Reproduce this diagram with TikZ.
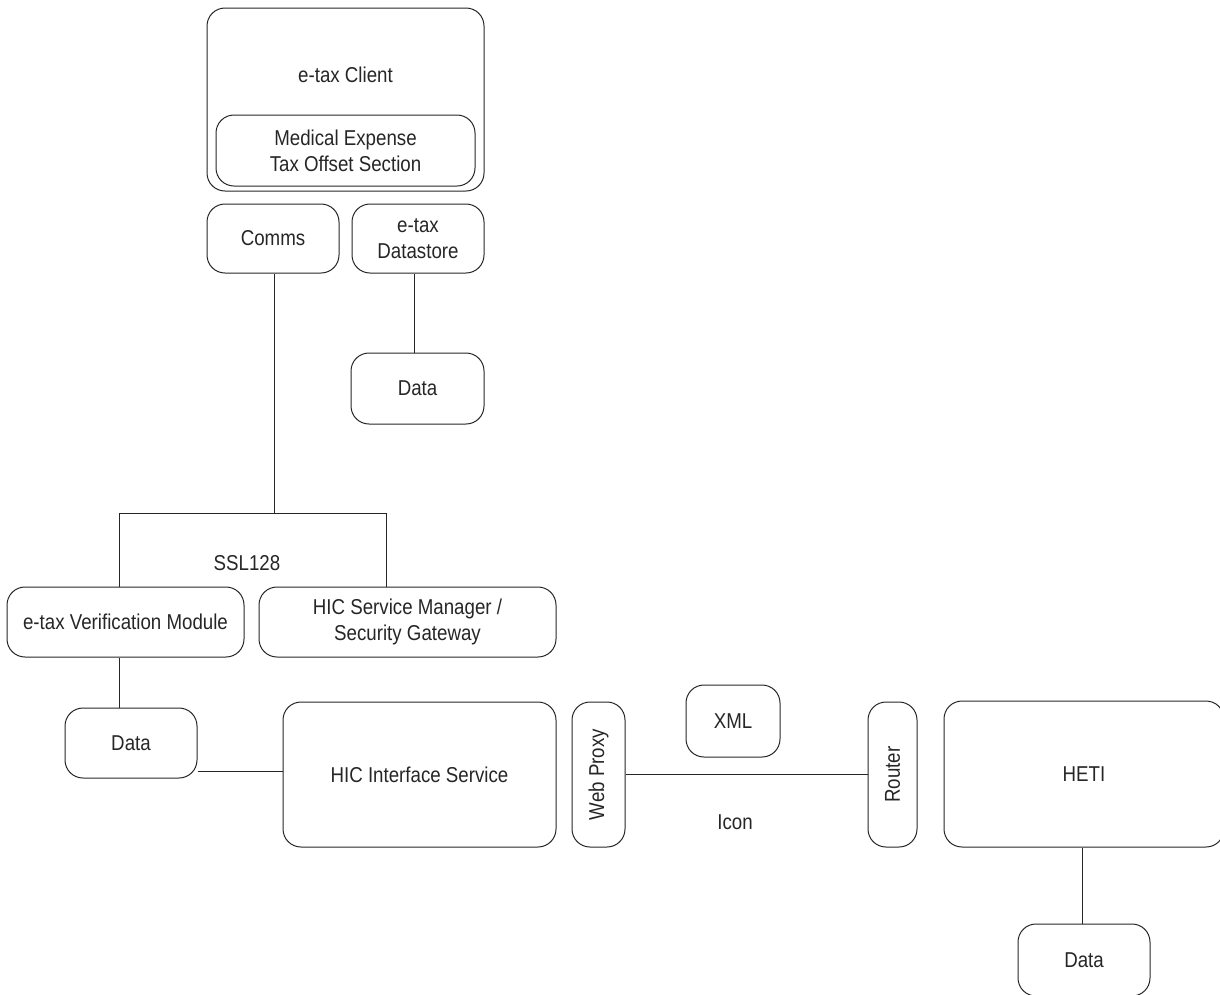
\documentclass[tikz,border=0pt]{standalone}
\usepackage{fontspec}
\setmainfont[FakeStretch=0.87]{Liberation Sans}
\begin{document}
\begin{tikzpicture}[x=1pt,y=-1pt,
  box/.style={draw=black!85, rounded corners=18pt, line width=1pt, align=center, inner sep=0pt,
    text=black!85, font=\fontsize{21.5}{26}\selectfont},
  lbl/.style={font=\fontsize{21.5}{26}\selectfont, text=black!85},
  link/.style={draw=black!85, line width=1pt}]
\useasboundingbox (0,0) rectangle (1220,994);
\clip (0,0) rectangle (1220,994);
% top group
\node[box, minimum width=277, minimum height=183] (client) at (345.5,99.5) {};
\node[lbl] (clientlbl) at (345.5,75) {e-tax Client};
\node[box, minimum width=259, minimum height=71] (med) at (345.5,150.5) {Medical Expense\\Tax Offset Section};
\node[box, minimum width=132, minimum height=69] (comms) at (273,238.5) {Comms};
\node[box, minimum width=132, minimum height=69] (store) at (418,238.5) {e-tax\\Datastore};
\node[box, minimum width=133, minimum height=71] (data1) at (417.5,388.5) {Data};
\draw[link] (store.south -| 414,0) -- (data1.north -| 414,0);
% SSL
\node[box, minimum width=237, minimum height=70] (verif) at (125.5,622) {e-tax Verification Module};
\node[box, minimum width=297, minimum height=70] (hicsm) at (407.5,622) {HIC Service Manager /\\Security Gateway};
\coordinate (jl) at (119,513);
\coordinate (jr) at (386,513);
\coordinate (jc) at (274,513);
\draw[link] (comms.south -| jc) -- (jc);
\draw[link] (verif.north -| jl) -- (jl) -- (jr) -- (hicsm.north -| jr);
\node[lbl] (ssl) at (247,563) {SSL128};
% bottom row
\node[box, minimum width=132, minimum height=70] (data2) at (131,743) {Data};
\draw[link] (verif.south -| jl) -- (data2.north -| jl);
\node[box, minimum width=273, minimum height=145] (hicis) at (419.5,774.5) {HIC Interface Service};
\draw[link] (data2.east |- 0,771) -- (hicis.west |- 0,771);
\node[box, rotate=90, minimum width=145, minimum height=53] (proxy) at (598.5,774.5) {Web Proxy};
\node[box, minimum width=94, minimum height=72] (xml) at (733,721) {XML};
\node[box, rotate=90, minimum width=145, minimum height=49] (router) at (892.5,774.5) {Router};
\draw[link] (proxy.south |- 0,774) -- (router.north |- 0,774);
\node[lbl] (icon) at (735,822) {Icon};
\node[box, minimum width=280, minimum height=146] (heti) at (1084,774) {HETI};
\node[box, minimum width=132, minimum height=72] (data3) at (1084,960) {Data};
\draw[link] (heti.south -| 1082,0) -- (data3.north -| 1082,0);
\end{tikzpicture}
\end{document}
